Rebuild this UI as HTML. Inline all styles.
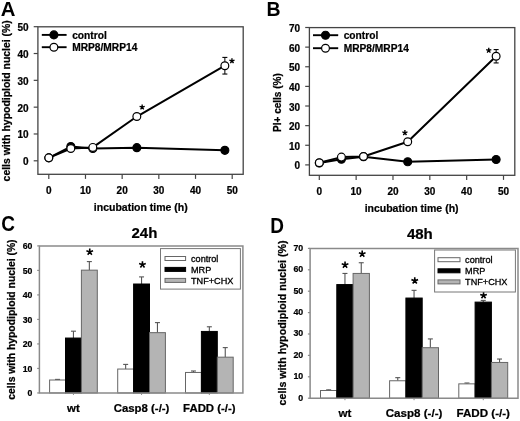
<!DOCTYPE html>
<html><head><meta charset="utf-8"><style>
html,body{margin:0;padding:0;background:#fff;}
body{width:520px;height:421px;overflow:hidden;}
svg{display:block;font-family:"Liberation Sans", sans-serif;filter:grayscale(1);}
</style></head><body>
<svg width="520" height="421" viewBox="0 0 520 421">
<rect width="520" height="421" fill="#fff"/>
<rect x="37.9" y="26.8" width="205.29999999999998" height="147.5" fill="none" stroke="#444" stroke-width="1.3"/>
<line x1="33.70" y1="160.80" x2="37.90" y2="160.80" stroke="#444" stroke-width="1.2"/>
<text x="28.50" y="165.30" font-size="10" font-weight="bold" text-anchor="end" stroke="#000" stroke-width="0.22" >0</text>
<line x1="33.70" y1="133.98" x2="37.90" y2="133.98" stroke="#444" stroke-width="1.2"/>
<text x="28.50" y="138.48" font-size="10" font-weight="bold" text-anchor="end" stroke="#000" stroke-width="0.22" >10</text>
<line x1="33.70" y1="107.16" x2="37.90" y2="107.16" stroke="#444" stroke-width="1.2"/>
<text x="28.50" y="111.66" font-size="10" font-weight="bold" text-anchor="end" stroke="#000" stroke-width="0.22" >20</text>
<line x1="33.70" y1="80.34" x2="37.90" y2="80.34" stroke="#444" stroke-width="1.2"/>
<text x="28.50" y="84.84" font-size="10" font-weight="bold" text-anchor="end" stroke="#000" stroke-width="0.22" >30</text>
<line x1="33.70" y1="53.52" x2="37.90" y2="53.52" stroke="#444" stroke-width="1.2"/>
<text x="28.50" y="58.02" font-size="10" font-weight="bold" text-anchor="end" stroke="#000" stroke-width="0.22" >40</text>
<line x1="33.70" y1="26.70" x2="37.90" y2="26.70" stroke="#444" stroke-width="1.2"/>
<text x="28.50" y="31.20" font-size="10" font-weight="bold" text-anchor="end" stroke="#000" stroke-width="0.22" >50</text>
<line x1="48.80" y1="174.30" x2="48.80" y2="178.90" stroke="#444" stroke-width="1.2"/>
<text x="48.80" y="194.20" font-size="10" font-weight="bold" text-anchor="middle" stroke="#000" stroke-width="0.22" >0</text>
<line x1="85.48" y1="174.30" x2="85.48" y2="178.90" stroke="#444" stroke-width="1.2"/>
<text x="85.48" y="194.20" font-size="10" font-weight="bold" text-anchor="middle" stroke="#000" stroke-width="0.22" >10</text>
<line x1="122.16" y1="174.30" x2="122.16" y2="178.90" stroke="#444" stroke-width="1.2"/>
<text x="122.16" y="194.20" font-size="10" font-weight="bold" text-anchor="middle" stroke="#000" stroke-width="0.22" >20</text>
<line x1="158.84" y1="174.30" x2="158.84" y2="178.90" stroke="#444" stroke-width="1.2"/>
<text x="158.84" y="194.20" font-size="10" font-weight="bold" text-anchor="middle" stroke="#000" stroke-width="0.22" >30</text>
<line x1="195.52" y1="174.30" x2="195.52" y2="178.90" stroke="#444" stroke-width="1.2"/>
<text x="195.52" y="194.20" font-size="10" font-weight="bold" text-anchor="middle" stroke="#000" stroke-width="0.22" >40</text>
<line x1="232.20" y1="174.30" x2="232.20" y2="178.90" stroke="#444" stroke-width="1.2"/>
<text x="232.20" y="194.20" font-size="10" font-weight="bold" text-anchor="middle" stroke="#000" stroke-width="0.22" >50</text>
<text x="140.80" y="211.30" font-size="10.5" font-weight="bold" text-anchor="middle" stroke="#000" stroke-width="0.22" >incubation time (h)</text>
<text transform="translate(10.0,100.8) rotate(-90)" x="0" y="0" font-size="10.45" font-weight="bold" text-anchor="middle" stroke="#000" stroke-width="0.25">cells with hypodiploid nuclei (%)</text>
<text transform="translate(0.7,15.9) scale(0.97,1)" x="0" y="0" font-size="21" font-weight="bold">A</text>
<polyline points="48.80,157.85 70.81,146.59 92.82,148.46 136.83,147.66 224.86,150.34" fill="none" stroke="#000" stroke-width="2.0" stroke-linejoin="round"/>
<polyline points="48.80,157.85 70.81,148.46 92.82,147.39 136.83,116.55 224.86,65.72" fill="none" stroke="#000" stroke-width="2.0" stroke-linejoin="round"/>
<line x1="224.86" y1="57.41" x2="224.86" y2="74.04" stroke="#000" stroke-width="1"/>
<line x1="222.36" y1="57.41" x2="227.36" y2="57.41" stroke="#000" stroke-width="1.1"/>
<line x1="222.36" y1="74.04" x2="227.36" y2="74.04" stroke="#000" stroke-width="1.1"/>
<circle cx="48.80" cy="157.85" r="4.0" fill="#000" stroke="#000" stroke-width="1.1"/>
<circle cx="70.81" cy="146.59" r="4.0" fill="#000" stroke="#000" stroke-width="1.1"/>
<circle cx="92.82" cy="148.46" r="4.0" fill="#000" stroke="#000" stroke-width="1.1"/>
<circle cx="136.83" cy="147.66" r="4.0" fill="#000" stroke="#000" stroke-width="1.1"/>
<circle cx="224.86" cy="150.34" r="4.0" fill="#000" stroke="#000" stroke-width="1.1"/>
<circle cx="48.80" cy="157.85" r="3.9" fill="#fff" stroke="#000" stroke-width="1.2"/>
<circle cx="70.81" cy="148.46" r="3.9" fill="#fff" stroke="#000" stroke-width="1.2"/>
<circle cx="92.82" cy="147.39" r="3.9" fill="#fff" stroke="#000" stroke-width="1.2"/>
<circle cx="136.83" cy="116.55" r="3.9" fill="#fff" stroke="#000" stroke-width="1.2"/>
<circle cx="224.86" cy="65.72" r="3.9" fill="#fff" stroke="#000" stroke-width="1.2"/>
<path d="M142.15 107.10L142.15 104.40M142.15 107.10L144.72 106.27M142.15 107.10L143.74 109.28M142.15 107.10L140.56 109.28M142.15 107.10L139.58 106.27" stroke="#000" stroke-width="1.35" fill="none" stroke-linecap="butt"/>
<path d="M231.95 61.00L231.95 58.30M231.95 61.00L234.52 60.17M231.95 61.00L233.54 63.18M231.95 61.00L230.36 63.18M231.95 61.00L229.38 60.17" stroke="#000" stroke-width="1.35" fill="none" stroke-linecap="butt"/>
<line x1="41.80" y1="34.90" x2="66.60" y2="34.90" stroke="#000" stroke-width="1.9"/>
<circle cx="53.90" cy="34.90" r="4.0" fill="#000" stroke="#000" stroke-width="1.1"/>
<line x1="41.80" y1="47.20" x2="66.60" y2="47.20" stroke="#000" stroke-width="1.9"/>
<circle cx="53.90" cy="47.20" r="3.9" fill="#fff" stroke="#000" stroke-width="1.2"/>
<text x="72.20" y="38.90" font-size="10.2" font-weight="bold" text-anchor="start" stroke="#000" stroke-width="0.22" >control</text>
<text x="72.20" y="51.20" font-size="10.2" font-weight="bold" text-anchor="start" stroke="#000" stroke-width="0.22" >MRP8/MRP14</text>
<rect x="309.4" y="27.6" width="205.39999999999998" height="147.70000000000002" fill="none" stroke="#444" stroke-width="1.3"/>
<line x1="305.20" y1="164.90" x2="309.40" y2="164.90" stroke="#444" stroke-width="1.2"/>
<text x="300.00" y="169.40" font-size="10" font-weight="bold" text-anchor="end" stroke="#000" stroke-width="0.22" >0</text>
<line x1="305.20" y1="145.27" x2="309.40" y2="145.27" stroke="#444" stroke-width="1.2"/>
<text x="300.00" y="149.77" font-size="10" font-weight="bold" text-anchor="end" stroke="#000" stroke-width="0.22" >10</text>
<line x1="305.20" y1="125.64" x2="309.40" y2="125.64" stroke="#444" stroke-width="1.2"/>
<text x="300.00" y="130.14" font-size="10" font-weight="bold" text-anchor="end" stroke="#000" stroke-width="0.22" >20</text>
<line x1="305.20" y1="106.01" x2="309.40" y2="106.01" stroke="#444" stroke-width="1.2"/>
<text x="300.00" y="110.51" font-size="10" font-weight="bold" text-anchor="end" stroke="#000" stroke-width="0.22" >30</text>
<line x1="305.20" y1="86.39" x2="309.40" y2="86.39" stroke="#444" stroke-width="1.2"/>
<text x="300.00" y="90.89" font-size="10" font-weight="bold" text-anchor="end" stroke="#000" stroke-width="0.22" >40</text>
<line x1="305.20" y1="66.76" x2="309.40" y2="66.76" stroke="#444" stroke-width="1.2"/>
<text x="300.00" y="71.26" font-size="10" font-weight="bold" text-anchor="end" stroke="#000" stroke-width="0.22" >50</text>
<line x1="305.20" y1="47.13" x2="309.40" y2="47.13" stroke="#444" stroke-width="1.2"/>
<text x="300.00" y="51.63" font-size="10" font-weight="bold" text-anchor="end" stroke="#000" stroke-width="0.22" >60</text>
<line x1="305.20" y1="27.50" x2="309.40" y2="27.50" stroke="#444" stroke-width="1.2"/>
<text x="300.00" y="32.00" font-size="10" font-weight="bold" text-anchor="end" stroke="#000" stroke-width="0.22" >70</text>
<line x1="319.30" y1="175.30" x2="319.30" y2="179.90" stroke="#444" stroke-width="1.2"/>
<text x="319.30" y="195.20" font-size="10" font-weight="bold" text-anchor="middle" stroke="#000" stroke-width="0.22" >0</text>
<line x1="356.14" y1="175.30" x2="356.14" y2="179.90" stroke="#444" stroke-width="1.2"/>
<text x="356.14" y="195.20" font-size="10" font-weight="bold" text-anchor="middle" stroke="#000" stroke-width="0.22" >10</text>
<line x1="392.98" y1="175.30" x2="392.98" y2="179.90" stroke="#444" stroke-width="1.2"/>
<text x="392.98" y="195.20" font-size="10" font-weight="bold" text-anchor="middle" stroke="#000" stroke-width="0.22" >20</text>
<line x1="429.82" y1="175.30" x2="429.82" y2="179.90" stroke="#444" stroke-width="1.2"/>
<text x="429.82" y="195.20" font-size="10" font-weight="bold" text-anchor="middle" stroke="#000" stroke-width="0.22" >30</text>
<line x1="466.66" y1="175.30" x2="466.66" y2="179.90" stroke="#444" stroke-width="1.2"/>
<text x="466.66" y="195.20" font-size="10" font-weight="bold" text-anchor="middle" stroke="#000" stroke-width="0.22" >40</text>
<line x1="503.50" y1="175.30" x2="503.50" y2="179.90" stroke="#444" stroke-width="1.2"/>
<text x="503.50" y="195.20" font-size="10" font-weight="bold" text-anchor="middle" stroke="#000" stroke-width="0.22" >50</text>
<text x="411.60" y="211.80" font-size="10.5" font-weight="bold" text-anchor="middle" stroke="#000" stroke-width="0.22" >incubation time (h)</text>
<text transform="translate(281.4,102.6) rotate(-90)" x="0" y="0" font-size="10.0" font-weight="bold" text-anchor="middle" stroke="#000" stroke-width="0.25">PI+ cells (%)</text>
<text transform="translate(266.6,15.9) scale(0.95,1)" x="0" y="0" font-size="20.5" font-weight="bold">B</text>
<polyline points="319.30,162.94 341.40,159.21 363.51,156.66 407.72,161.76 496.13,159.50" fill="none" stroke="#000" stroke-width="2.0" stroke-linejoin="round"/>
<polyline points="319.30,162.80 341.40,157.11 363.51,156.46 407.72,141.74 496.13,56.26" fill="none" stroke="#000" stroke-width="2.0" stroke-linejoin="round"/>
<line x1="496.13" y1="49.58" x2="496.13" y2="62.93" stroke="#000" stroke-width="1"/>
<line x1="493.63" y1="49.58" x2="498.63" y2="49.58" stroke="#000" stroke-width="1.1"/>
<line x1="493.63" y1="62.93" x2="498.63" y2="62.93" stroke="#000" stroke-width="1.1"/>
<circle cx="319.30" cy="162.94" r="4.0" fill="#000" stroke="#000" stroke-width="1.1"/>
<circle cx="341.40" cy="159.21" r="4.0" fill="#000" stroke="#000" stroke-width="1.1"/>
<circle cx="363.51" cy="156.66" r="4.0" fill="#000" stroke="#000" stroke-width="1.1"/>
<circle cx="407.72" cy="161.76" r="4.0" fill="#000" stroke="#000" stroke-width="1.1"/>
<circle cx="496.13" cy="159.50" r="4.0" fill="#000" stroke="#000" stroke-width="1.1"/>
<circle cx="319.30" cy="162.80" r="3.9" fill="#fff" stroke="#000" stroke-width="1.2"/>
<circle cx="341.40" cy="157.11" r="3.9" fill="#fff" stroke="#000" stroke-width="1.2"/>
<circle cx="363.51" cy="156.46" r="3.9" fill="#fff" stroke="#000" stroke-width="1.2"/>
<circle cx="407.72" cy="141.74" r="3.9" fill="#fff" stroke="#000" stroke-width="1.2"/>
<circle cx="496.13" cy="56.26" r="3.9" fill="#fff" stroke="#000" stroke-width="1.2"/>
<path d="M404.90 132.80L404.90 130.10M404.90 132.80L407.47 131.97M404.90 132.80L406.49 134.98M404.90 132.80L403.31 134.98M404.90 132.80L402.33 131.97" stroke="#000" stroke-width="1.35" fill="none" stroke-linecap="butt"/>
<path d="M488.75 50.40L488.75 47.70M488.75 50.40L491.32 49.57M488.75 50.40L490.34 52.58M488.75 50.40L487.16 52.58M488.75 50.40L486.18 49.57" stroke="#000" stroke-width="1.35" fill="none" stroke-linecap="butt"/>
<line x1="313.00" y1="35.20" x2="338.20" y2="35.20" stroke="#000" stroke-width="1.9"/>
<circle cx="325.50" cy="35.20" r="4.0" fill="#000" stroke="#000" stroke-width="1.1"/>
<line x1="313.00" y1="48.20" x2="338.20" y2="48.20" stroke="#000" stroke-width="1.9"/>
<circle cx="325.50" cy="48.20" r="3.9" fill="#fff" stroke="#000" stroke-width="1.2"/>
<text x="343.70" y="39.20" font-size="10.2" font-weight="bold" text-anchor="start" stroke="#000" stroke-width="0.22" >control</text>
<text x="343.70" y="52.20" font-size="10.2" font-weight="bold" text-anchor="start" stroke="#000" stroke-width="0.22" >MRP8/MRP14</text>
<line x1="37.20" y1="392.95" x2="39.40" y2="392.95" stroke="#8a8a8a" stroke-width="1.2"/>
<text x="32.30" y="396.05" font-size="8.7" font-weight="bold" text-anchor="end" stroke="#000" stroke-width="0.22" >0</text>
<line x1="37.20" y1="368.44" x2="39.40" y2="368.44" stroke="#8a8a8a" stroke-width="1.2"/>
<text x="32.30" y="371.54" font-size="8.7" font-weight="bold" text-anchor="end" stroke="#000" stroke-width="0.22" >10</text>
<line x1="37.20" y1="343.93" x2="39.40" y2="343.93" stroke="#8a8a8a" stroke-width="1.2"/>
<text x="32.30" y="347.03" font-size="8.7" font-weight="bold" text-anchor="end" stroke="#000" stroke-width="0.22" >20</text>
<line x1="37.20" y1="319.43" x2="39.40" y2="319.43" stroke="#8a8a8a" stroke-width="1.2"/>
<text x="32.30" y="322.53" font-size="8.7" font-weight="bold" text-anchor="end" stroke="#000" stroke-width="0.22" >30</text>
<line x1="37.20" y1="294.92" x2="39.40" y2="294.92" stroke="#8a8a8a" stroke-width="1.2"/>
<text x="32.30" y="298.02" font-size="8.7" font-weight="bold" text-anchor="end" stroke="#000" stroke-width="0.22" >40</text>
<line x1="37.20" y1="270.41" x2="39.40" y2="270.41" stroke="#8a8a8a" stroke-width="1.2"/>
<text x="32.30" y="273.51" font-size="8.7" font-weight="bold" text-anchor="end" stroke="#000" stroke-width="0.22" >50</text>
<line x1="37.20" y1="245.90" x2="39.40" y2="245.90" stroke="#8a8a8a" stroke-width="1.2"/>
<text x="32.30" y="249.00" font-size="8.7" font-weight="bold" text-anchor="end" stroke="#000" stroke-width="0.22" >60</text>
<line x1="57.55" y1="379.40" x2="57.55" y2="380.01" stroke="#555" stroke-width="1.1"/>
<line x1="55.05" y1="379.40" x2="60.05" y2="379.40" stroke="#555" stroke-width="1.1"/>
<rect x="49.60" y="380.01" width="15.90" height="12.94" fill="#fff" stroke="#666" stroke-width="1"/>
<line x1="73.45" y1="331.19" x2="73.45" y2="338.05" stroke="#555" stroke-width="1.1"/>
<line x1="70.95" y1="331.19" x2="75.95" y2="331.19" stroke="#555" stroke-width="1.1"/>
<rect x="65.50" y="338.05" width="15.90" height="54.90" fill="#000" stroke="#000" stroke-width="1"/>
<line x1="89.35" y1="261.59" x2="89.35" y2="270.16" stroke="#555" stroke-width="1.1"/>
<line x1="86.85" y1="261.59" x2="91.85" y2="261.59" stroke="#555" stroke-width="1.1"/>
<rect x="81.40" y="270.16" width="15.90" height="122.79" fill="#b4b4b4" stroke="#666" stroke-width="1"/>
<line x1="73.45" y1="392.95" x2="73.45" y2="394.95" stroke="#8a8a8a" stroke-width="1"/>
<text x="73.45" y="411.60" font-size="11.4" font-weight="bold" text-anchor="middle" stroke="#000" stroke-width="0.22" >wt</text>
<line x1="125.65" y1="364.40" x2="125.65" y2="369.05" stroke="#555" stroke-width="1.1"/>
<line x1="123.15" y1="364.40" x2="128.15" y2="364.40" stroke="#555" stroke-width="1.1"/>
<rect x="117.70" y="369.05" width="15.90" height="23.90" fill="#fff" stroke="#666" stroke-width="1"/>
<line x1="141.55" y1="276.90" x2="141.55" y2="284.01" stroke="#555" stroke-width="1.1"/>
<line x1="139.05" y1="276.90" x2="144.05" y2="276.90" stroke="#555" stroke-width="1.1"/>
<rect x="133.60" y="284.01" width="15.90" height="108.94" fill="#000" stroke="#000" stroke-width="1"/>
<line x1="157.45" y1="322.61" x2="157.45" y2="332.66" stroke="#555" stroke-width="1.1"/>
<line x1="154.95" y1="322.61" x2="159.95" y2="322.61" stroke="#555" stroke-width="1.1"/>
<rect x="149.50" y="332.66" width="15.90" height="60.29" fill="#b4b4b4" stroke="#666" stroke-width="1"/>
<line x1="141.55" y1="392.95" x2="141.55" y2="394.95" stroke="#8a8a8a" stroke-width="1"/>
<text x="141.55" y="411.60" font-size="11.4" font-weight="bold" text-anchor="middle" stroke="#000" stroke-width="0.22" >Casp8 (-/-)</text>
<line x1="193.45" y1="370.99" x2="193.45" y2="372.46" stroke="#555" stroke-width="1.1"/>
<line x1="190.95" y1="370.99" x2="195.95" y2="370.99" stroke="#555" stroke-width="1.1"/>
<rect x="185.50" y="372.46" width="15.90" height="20.49" fill="#fff" stroke="#666" stroke-width="1"/>
<line x1="209.35" y1="326.78" x2="209.35" y2="331.43" stroke="#555" stroke-width="1.1"/>
<line x1="206.85" y1="326.78" x2="211.85" y2="326.78" stroke="#555" stroke-width="1.1"/>
<rect x="201.40" y="331.43" width="15.90" height="61.52" fill="#000" stroke="#000" stroke-width="1"/>
<line x1="225.25" y1="347.61" x2="225.25" y2="357.17" stroke="#555" stroke-width="1.1"/>
<line x1="222.75" y1="347.61" x2="227.75" y2="347.61" stroke="#555" stroke-width="1.1"/>
<rect x="217.30" y="357.17" width="15.90" height="35.78" fill="#b4b4b4" stroke="#666" stroke-width="1"/>
<line x1="209.35" y1="392.95" x2="209.35" y2="394.95" stroke="#8a8a8a" stroke-width="1"/>
<text x="209.35" y="411.60" font-size="11.4" font-weight="bold" text-anchor="middle" stroke="#000" stroke-width="0.22" >FADD (-/-)</text>
<path d="M39.4 392.95 V245.9 H242.9 V392.95 Z" fill="none" stroke="#8a8a8a" stroke-width="1.5"/>
<path d="M142.45 264.65L142.45 261.15M142.45 264.65L145.78 263.57M142.45 264.65L144.51 267.48M142.45 264.65L140.39 267.48M142.45 264.65L139.12 263.57" stroke="#000" stroke-width="1.6" fill="none" stroke-linecap="butt"/>
<path d="M89.75 251.90L89.75 248.40M89.75 251.90L93.08 250.82M89.75 251.90L91.81 254.73M89.75 251.90L87.69 254.73M89.75 251.90L86.42 250.82" stroke="#000" stroke-width="1.6" fill="none" stroke-linecap="butt"/>
<rect x="160.50" y="248.60" width="79.90" height="40.50" fill="#fff" stroke="#777" stroke-width="1"/>
<rect x="165.00" y="256.50" width="20.60" height="4.00" fill="#fff" stroke="#666" stroke-width="1"/>
<text x="191.00" y="261.60" font-size="9.15" font-weight="normal" text-anchor="start" stroke="#000" stroke-width="0.3" >control</text>
<rect x="165.00" y="267.40" width="20.60" height="4.00" fill="#000" stroke="#000" stroke-width="1"/>
<text x="191.00" y="272.50" font-size="9.15" font-weight="normal" text-anchor="start" stroke="#000" stroke-width="0.3" >MRP</text>
<rect x="165.00" y="278.40" width="20.60" height="4.00" fill="#b4b4b4" stroke="#666" stroke-width="1"/>
<text x="191.00" y="283.50" font-size="9.15" font-weight="normal" text-anchor="start" stroke="#000" stroke-width="0.3" >TNF+CHX</text>
<text x="131.50" y="238.10" font-size="15" font-weight="bold" text-anchor="start" stroke="#000" stroke-width="0.22" >24h</text>
<text transform="translate(1.3,230.7) scale(0.88,1)" x="0" y="0" font-size="21.6" font-weight="bold">C</text>
<text transform="translate(15.0,319.55) rotate(-90)" x="0" y="0" font-size="10.38" font-weight="bold" text-anchor="middle" stroke="#000" stroke-width="0.25">cells with hypodiploid nuclei (%)</text>
<line x1="307.90" y1="398.20" x2="310.10" y2="398.20" stroke="#8a8a8a" stroke-width="1.2"/>
<text x="303.20" y="400.50" font-size="8.8" font-weight="bold" text-anchor="end" stroke="#000" stroke-width="0.22" >0</text>
<line x1="307.90" y1="376.80" x2="310.10" y2="376.80" stroke="#8a8a8a" stroke-width="1.2"/>
<text x="303.20" y="379.10" font-size="8.8" font-weight="bold" text-anchor="end" stroke="#000" stroke-width="0.22" >10</text>
<line x1="307.90" y1="355.40" x2="310.10" y2="355.40" stroke="#8a8a8a" stroke-width="1.2"/>
<text x="303.20" y="357.70" font-size="8.8" font-weight="bold" text-anchor="end" stroke="#000" stroke-width="0.22" >20</text>
<line x1="307.90" y1="334.00" x2="310.10" y2="334.00" stroke="#8a8a8a" stroke-width="1.2"/>
<text x="303.20" y="336.30" font-size="8.8" font-weight="bold" text-anchor="end" stroke="#000" stroke-width="0.22" >30</text>
<line x1="307.90" y1="312.60" x2="310.10" y2="312.60" stroke="#8a8a8a" stroke-width="1.2"/>
<text x="303.20" y="314.90" font-size="8.8" font-weight="bold" text-anchor="end" stroke="#000" stroke-width="0.22" >40</text>
<line x1="307.90" y1="291.20" x2="310.10" y2="291.20" stroke="#8a8a8a" stroke-width="1.2"/>
<text x="303.20" y="293.50" font-size="8.8" font-weight="bold" text-anchor="end" stroke="#000" stroke-width="0.22" >50</text>
<line x1="307.90" y1="269.80" x2="310.10" y2="269.80" stroke="#8a8a8a" stroke-width="1.2"/>
<text x="303.20" y="272.10" font-size="8.8" font-weight="bold" text-anchor="end" stroke="#000" stroke-width="0.22" >60</text>
<line x1="307.90" y1="248.40" x2="310.10" y2="248.40" stroke="#8a8a8a" stroke-width="1.2"/>
<text x="303.20" y="250.70" font-size="8.8" font-weight="bold" text-anchor="end" stroke="#000" stroke-width="0.22" >70</text>
<line x1="328.65" y1="389.85" x2="328.65" y2="390.50" stroke="#555" stroke-width="1.1"/>
<line x1="326.15" y1="389.85" x2="331.15" y2="389.85" stroke="#555" stroke-width="1.1"/>
<rect x="320.50" y="390.50" width="16.30" height="7.70" fill="#fff" stroke="#666" stroke-width="1"/>
<line x1="344.95" y1="273.44" x2="344.95" y2="284.57" stroke="#555" stroke-width="1.1"/>
<line x1="342.45" y1="273.44" x2="347.45" y2="273.44" stroke="#555" stroke-width="1.1"/>
<rect x="336.80" y="284.57" width="16.30" height="113.63" fill="#000" stroke="#000" stroke-width="1"/>
<line x1="361.25" y1="262.74" x2="361.25" y2="273.44" stroke="#555" stroke-width="1.1"/>
<line x1="358.75" y1="262.74" x2="363.75" y2="262.74" stroke="#555" stroke-width="1.1"/>
<rect x="353.10" y="273.44" width="16.30" height="124.76" fill="#b4b4b4" stroke="#666" stroke-width="1"/>
<line x1="344.95" y1="398.20" x2="344.95" y2="400.20" stroke="#8a8a8a" stroke-width="1"/>
<text x="344.95" y="417.10" font-size="11.6" font-weight="bold" text-anchor="middle" stroke="#000" stroke-width="0.22" >wt</text>
<line x1="397.75" y1="377.66" x2="397.75" y2="380.76" stroke="#555" stroke-width="1.1"/>
<line x1="395.25" y1="377.66" x2="400.25" y2="377.66" stroke="#555" stroke-width="1.1"/>
<rect x="389.60" y="380.76" width="16.30" height="17.44" fill="#fff" stroke="#666" stroke-width="1"/>
<line x1="414.05" y1="290.34" x2="414.05" y2="298.05" stroke="#555" stroke-width="1.1"/>
<line x1="411.55" y1="290.34" x2="416.55" y2="290.34" stroke="#555" stroke-width="1.1"/>
<rect x="405.90" y="298.05" width="16.30" height="100.15" fill="#000" stroke="#000" stroke-width="1"/>
<line x1="430.35" y1="338.92" x2="430.35" y2="347.70" stroke="#555" stroke-width="1.1"/>
<line x1="427.85" y1="338.92" x2="432.85" y2="338.92" stroke="#555" stroke-width="1.1"/>
<rect x="422.20" y="347.70" width="16.30" height="50.50" fill="#b4b4b4" stroke="#666" stroke-width="1"/>
<line x1="414.05" y1="398.20" x2="414.05" y2="400.20" stroke="#8a8a8a" stroke-width="1"/>
<text x="414.05" y="417.10" font-size="11.6" font-weight="bold" text-anchor="middle" stroke="#000" stroke-width="0.22" >Casp8 (-/-)</text>
<line x1="466.95" y1="383.01" x2="466.95" y2="383.86" stroke="#555" stroke-width="1.1"/>
<line x1="464.45" y1="383.01" x2="469.45" y2="383.01" stroke="#555" stroke-width="1.1"/>
<rect x="458.80" y="383.86" width="16.30" height="14.34" fill="#fff" stroke="#666" stroke-width="1"/>
<line x1="483.25" y1="300.40" x2="483.25" y2="302.11" stroke="#555" stroke-width="1.1"/>
<line x1="480.75" y1="300.40" x2="485.75" y2="300.40" stroke="#555" stroke-width="1.1"/>
<rect x="475.10" y="302.11" width="16.30" height="96.09" fill="#000" stroke="#000" stroke-width="1"/>
<line x1="499.55" y1="359.04" x2="499.55" y2="362.46" stroke="#555" stroke-width="1.1"/>
<line x1="497.05" y1="359.04" x2="502.05" y2="359.04" stroke="#555" stroke-width="1.1"/>
<rect x="491.40" y="362.46" width="16.30" height="35.74" fill="#b4b4b4" stroke="#666" stroke-width="1"/>
<line x1="483.25" y1="398.20" x2="483.25" y2="400.20" stroke="#8a8a8a" stroke-width="1"/>
<text x="483.25" y="417.10" font-size="11.6" font-weight="bold" text-anchor="middle" stroke="#000" stroke-width="0.22" >FADD (-/-)</text>
<path d="M310.1 398.2 V248.5 H518.0 V398.2 Z" fill="none" stroke="#8a8a8a" stroke-width="1.5"/>
<path d="M345.05 264.90L345.05 261.40M345.05 264.90L348.38 263.82M345.05 264.90L347.11 267.73M345.05 264.90L342.99 267.73M345.05 264.90L341.72 263.82" stroke="#000" stroke-width="1.6" fill="none" stroke-linecap="butt"/>
<path d="M362.20 253.90L362.20 250.40M362.20 253.90L365.53 252.82M362.20 253.90L364.26 256.73M362.20 253.90L360.14 256.73M362.20 253.90L358.87 252.82" stroke="#000" stroke-width="1.6" fill="none" stroke-linecap="butt"/>
<path d="M414.75 280.70L414.75 277.20M414.75 280.70L418.08 279.62M414.75 280.70L416.81 283.53M414.75 280.70L412.69 283.53M414.75 280.70L411.42 279.62" stroke="#000" stroke-width="1.6" fill="none" stroke-linecap="butt"/>
<path d="M483.55 295.50L483.55 292.00M483.55 295.50L486.88 294.42M483.55 295.50L485.61 298.33M483.55 295.50L481.49 298.33M483.55 295.50L480.22 294.42" stroke="#000" stroke-width="1.6" fill="none" stroke-linecap="butt"/>
<rect x="434.60" y="250.00" width="80.80" height="42.00" fill="#fff" stroke="#777" stroke-width="1"/>
<rect x="438.00" y="257.70" width="22.00" height="4.00" fill="#fff" stroke="#666" stroke-width="1"/>
<text x="465.10" y="262.80" font-size="9.15" font-weight="normal" text-anchor="start" stroke="#000" stroke-width="0.3" >control</text>
<rect x="438.00" y="268.80" width="22.00" height="4.00" fill="#000" stroke="#000" stroke-width="1"/>
<text x="465.10" y="273.90" font-size="9.15" font-weight="normal" text-anchor="start" stroke="#000" stroke-width="0.3" >MRP</text>
<rect x="438.00" y="279.90" width="22.00" height="4.00" fill="#b4b4b4" stroke="#666" stroke-width="1"/>
<text x="465.10" y="285.00" font-size="9.15" font-weight="normal" text-anchor="start" stroke="#000" stroke-width="0.3" >TNF+CHX</text>
<text x="406.90" y="238.50" font-size="15" font-weight="bold" text-anchor="start" stroke="#000" stroke-width="0.22" >48h</text>
<text transform="translate(270.3,232.7) scale(0.88,1)" x="0" y="0" font-size="21.6" font-weight="bold">D</text>
<text transform="translate(285.9,322.9) rotate(-90)" x="0" y="0" font-size="10.7" font-weight="bold" text-anchor="middle" stroke="#000" stroke-width="0.25">cells with hypodiploid nuclei (%)</text>
</svg>
</body></html>
